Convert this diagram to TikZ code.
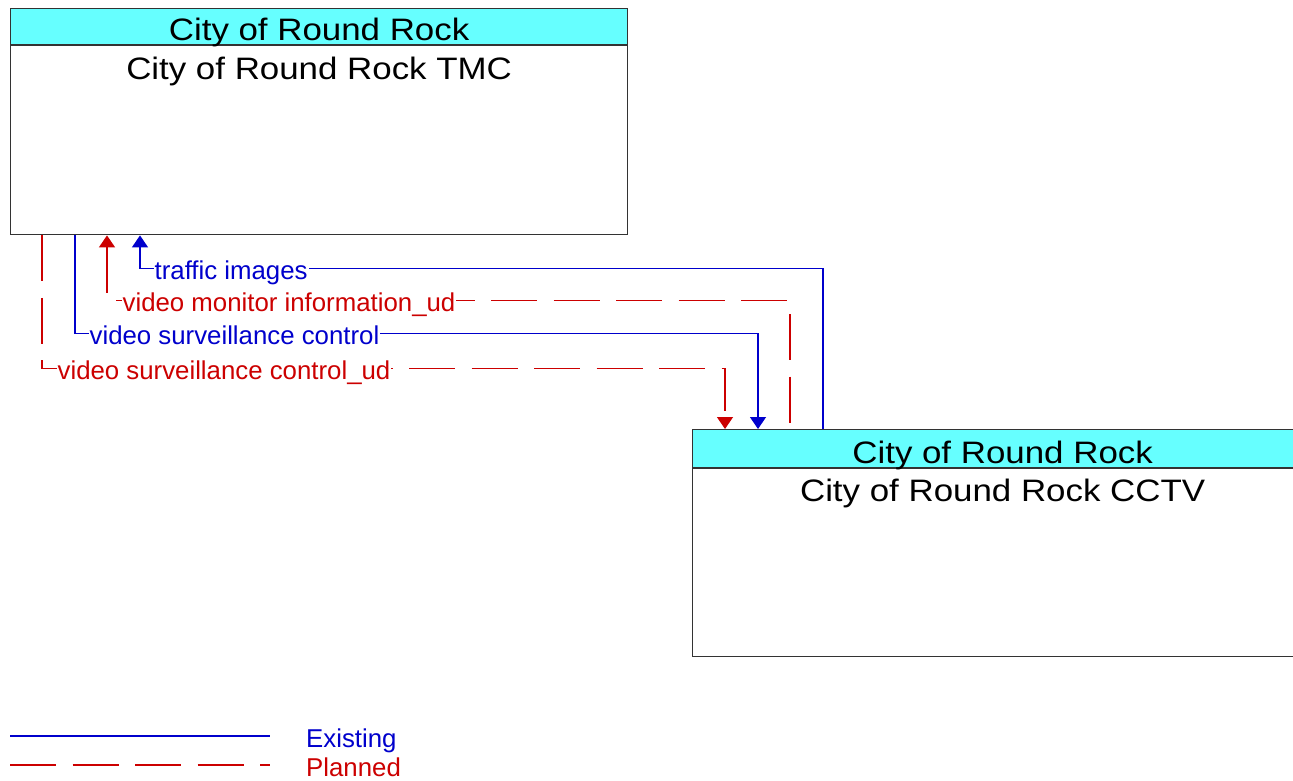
\documentclass[tikz,border=0pt]{standalone}
\usepackage{fontspec}
\setmainfont{Liberation Sans}
\newfontfamily\boxfont[FakeStretch=1.125]{Liberation Sans}
\usetikzlibrary{arrows.meta}
\definecolor{headcyan}{RGB}{102,255,255}
\definecolor{flowblue}{RGB}{0,0,204}
\definecolor{flowred}{RGB}{204,0,0}

\begin{document}
\begin{tikzpicture}[x=1pt, y=-1pt]
    \tikzset{
        boxhead/.style={draw=black!80, fill=headcyan, line width=1.2pt, anchor=north west,
            minimum width=617pt, minimum height=36pt, inner sep=0pt},
        boxbody/.style={draw=black!80, line width=1.2pt, anchor=north west,
            minimum width=617pt, inner sep=0pt},
        boxtext/.style={anchor=base, inner sep=0pt, font=\boxfont\fontsize{31}{37}\selectfont},
        existing/.style={draw=flowblue, line width=1.3pt},
        planned/.style={draw=flowred, line width=1.3pt, dash pattern=on 46pt off 16.5pt},
        flowtip/.tip={Triangle[width=16pt, length=12pt]},
        flowlabel/.style={anchor=base west, fill=white, inner xsep=1pt, inner ysep=2pt,
            yshift=-11pt, font=\fontsize{25.8}{30}\selectfont},
        existlabel/.style={flowlabel, text=flowblue},
        planlabel/.style={flowlabel, text=flowred}
    }

    \useasboundingbox (0,0) rectangle (1293,780);
    \clip (0,0) rectangle (1293,780);

    % elements
    \node[boxhead] (tmchead) at (10,8) {};
    \node[boxbody, minimum height=189pt] (tmcbody) at (tmchead.south west) {};
    \node[boxtext] (tmctitle) at ([yshift=5pt]tmchead.south) {City of Round Rock};
    \node[boxtext] (tmcname) at ([yshift=-34pt]tmcbody.north) {City of Round Rock TMC};

    \node[boxhead, minimum width=620pt, minimum height=38pt] (cctvhead) at (692,429) {};
    \node[boxbody, minimum width=620pt, minimum height=188pt] (cctvbody) at (cctvhead.south west) {};
    \node[boxtext] (cctvtitle) at ([yshift=5pt]cctvhead.south) {City of Round Rock};
    \node[boxtext] (cctvname) at ([yshift=-33pt]cctvbody.north) {City of Round Rock CCTV};

    % flows
    \draw[existing, flowtip-] ([xshift=130pt]tmcbody.south west) -- ++(0,33)
        node[existlabel, xshift=13pt] {traffic images}
        -| ([xshift=131pt]cctvhead.north west);
    \draw[planned, flowtip-] ([xshift=97pt]tmcbody.south west) -- ++(0,65)
        node[planlabel, xshift=14pt] {video monitor information\_ud}
        -| ([xshift=98pt]cctvhead.north west);
    \draw[existing, -flowtip] ([xshift=65pt]tmcbody.south west) -- ++(0,98)
        node[existlabel, xshift=13pt] {video surveillance control}
        -| ([xshift=66pt]cctvhead.north west);
    \draw[planned, -flowtip] ([xshift=32pt]tmcbody.south west) -- ++(0,133)
        node[planlabel, xshift=14pt] {video surveillance control\_ud}
        -| ([xshift=33pt]cctvhead.north west);

    % legend
    \coordinate (existstart) at (10,736);
    \coordinate (existend) at (270,736);
    \coordinate (planstart) at (10,765);
    \coordinate (planend) at (270,765);
    \draw[existing] (existstart) -- (existend);
    \draw[planned] (planstart) -- (planend);
    \node[existlabel, fill=none] (existkey) at (305,736) {Existing};
    \node[planlabel, fill=none] (plankey) at (305,765) {Planned};
\end{tikzpicture}
\end{document}
